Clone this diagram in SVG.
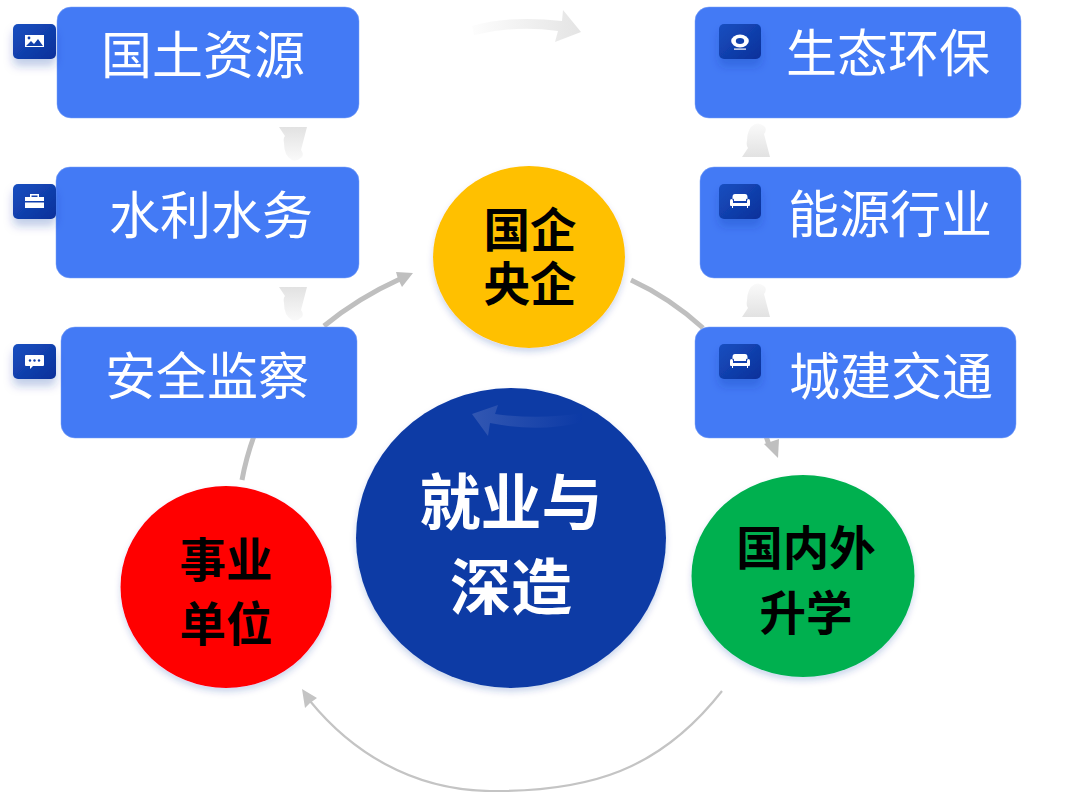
<svg xmlns="http://www.w3.org/2000/svg" width="1080" height="792" viewBox="0 0 1080 792">
<style>
text{font-family:"Noto Sans CJK SC","Noto Sans",sans-serif;text-anchor:middle}
.box{fill:#437af5;stroke:#7aa0f6;stroke-width:.5}
.bt{font-size:51px;fill:#fff;font-weight:400}
.ct{font-size:46.500px;fill:#000;font-weight:700}
.icon{fill:url(#ig);filter:url(#is)}
.g{fill:#fff}
.arc{fill:none;stroke:#bfbfbf;stroke-width:5}
</style>
<defs>
<linearGradient id="ig" x1="0" y1="0" x2="1" y2="1"><stop offset="0" stop-color="#1a4fc0"/><stop offset="1" stop-color="#08309a"/></linearGradient>
<linearGradient id="fade" x1="0" y1="0" x2="0" y2="1"><stop offset="0" stop-color="#e2e2e2"/><stop offset="1" stop-color="#fafafa"/></linearGradient>
<linearGradient id="fadeU" x1="0" y1="1" x2="0" y2="0"><stop offset="0" stop-color="#e2e2e2"/><stop offset="1" stop-color="#fafafa"/></linearGradient>
<linearGradient id="fadeR" x1="0" y1="0" x2="1" y2="0"><stop offset="0" stop-color="#fdfdfd"/><stop offset="1" stop-color="#e4e4e4"/></linearGradient>
<linearGradient id="fadeB" x1="1" y1="0" x2="0" y2="0"><stop offset="0" stop-color="#0c3aa6"/><stop offset="1" stop-color="#3257b2"/></linearGradient>
<filter id="is" x="-40%" y="-40%" width="180%" height="220%"><feDropShadow dx="0" dy="7" stdDeviation="5" flood-color="#0a35a0" flood-opacity=".25"/></filter>
<filter id="cs" x="-10%" y="-10%" width="120%" height="120%"><feDropShadow dx="0" dy="4" stdDeviation="3" flood-color="#0a35a0" flood-opacity=".2"/></filter>
<g id="sofa"><path class="g" d="M-5-7H5Q7.500-7 7.500-4V-2Q6-3 6-1V0H-6V-1Q-6-3-7.500-2V-4Q-7.500-7-5-7ZM-8.500-2Q-7-2-7 0V2H7V0Q7-2 8.500-2Q10-2 10 0V4Q10 5 9 5H8V7H7V5H-7V7H-8V5H-9Q-10 5-10 4V0Q-10-2-8.500-2Z"/></g>
<path id="d" d="M0 0L28 0L22 23Q25 27 23 30Q18 35 13 33Q5 29 5 16Q4 11 6 9Z"/>
<path id="u" d="M0 0L-28 0L-22-23Q-25-27-23-30Q-18-35-13-33Q-5-29-5-16Q-4-11-6-9Z" transform="scale(-1 1)"/>
</defs>
<rect width="1080" height="792" fill="#fff"/>

<g id="connectors">
<path class="arc" d="M242 480Q246 458 254 436"/>
<path class="arc" d="M324 326Q358 298 400 279"/>
<path d="M413 273L396 272L398 279L402 287Z" fill="#bfbfbf"/>
<path class="arc" d="M631 280Q670 298 703 328"/>
<path class="arc" d="M766 436L769 445"/>
<path d="M778 458L764 444L779 439Z" fill="#bfbfbf"/>
<path d="M722 691C660 770 590 792 490 791C410 790 350 750 310 701" fill="none" stroke="#c4c4c4" stroke-width="2.200"/>
<path d="M302 689L317 698L310 703L305 708Z" fill="#c4c4c4"/>
<use href="#d" x="279" y="127" fill="url(#fade)"/>
<use href="#d" x="279" y="287" fill="url(#fade)"/>
<use href="#u" x="742" y="157" fill="url(#fadeU)"/>
<use href="#u" x="742" y="317" fill="url(#fadeU)"/>
<path d="M472 26Q510 15 562 21L563 10L581 32L555 42L558 31Q515 25 474 35Z" fill="url(#fadeR)"/>
</g>

<g id="node-guotu">
<rect class="box" x="57" y="7" width="302" height="111" rx="14"/>
<text class="bt" x="203" y="74">国土资源</text>
<rect class="icon" x="13" y="24" width="43" height="35" rx="5"/>
<path class="g" d="M25 35H44V47H25Z"/><path d="M26 46L31 41L34 44L38 39L43 46Z" fill="#1040ac"/><circle cx="29" cy="38" r="1.400" fill="#1040ac"/>
</g>
<g id="node-shuili">
<rect class="box" x="56" y="167" width="303" height="111" rx="14"/>
<text class="bt" x="211" y="234">水利水务</text>
<rect class="icon" x="13" y="184" width="43" height="35" rx="5"/>
<path class="g" d="M30 197V194H39V197H44V201H25V197ZM31.500 197H37.500V195.500H31.500ZM25 202.500H44V208H25Z"/>
</g>
<g id="node-anquan">
<rect class="box" x="61" y="327" width="296" height="111" rx="14"/>
<text class="bt" x="207" y="395">安全监察</text>
<rect class="icon" x="13" y="344" width="43" height="35" rx="5"/>
<path class="g" d="M26 355H43Q44 355 44 356V365Q44 366 43 366H33L30 369V366H26Q25 366 25 365V356Q25 355 26 355Z"/>
<circle cx="30" cy="360.500" r="1.200" fill="#1040ac"/><circle cx="34.500" cy="360.500" r="1.200" fill="#1040ac"/><circle cx="39" cy="360.500" r="1.200" fill="#1040ac"/>
</g>

<g id="node-shengtai">
<rect class="box" x="695" y="7" width="326" height="111" rx="14"/>
<rect class="icon" x="719" y="24" width="42" height="35" rx="5"/>
<ellipse cx="740" cy="41" rx="8.800" ry="6.500" class="g"/><ellipse cx="740" cy="41" rx="4.200" ry="3" fill="#1040ac"/><rect x="734" y="48.500" width="12" height="1.200" class="g"/>
<text class="bt" x="888" y="72">生态环保</text>
</g>
<g id="node-nengyuan">
<rect class="box" x="700" y="167" width="321" height="111" rx="14"/>
<rect class="icon" x="719" y="184" width="42" height="35" rx="5"/>
<use href="#sofa" x="740" y="201"/>
<text class="bt" x="890" y="233">能源行业</text>
</g>
<g id="node-chengjian">
<rect class="box" x="695" y="327" width="321" height="111" rx="14"/>
<rect class="icon" x="719" y="344" width="42" height="35" rx="5"/>
<use href="#sofa" x="740" y="361"/>
<text class="bt" x="891" y="395">城建交通</text>
</g>

<g id="node-guoqi">
<ellipse cx="529" cy="257" rx="96" ry="91" fill="#ffc000" filter="url(#cs)"/>
<text class="ct" x="530" y="247">国企</text>
<text class="ct" x="530" y="301">央企</text>
</g>
<g id="node-center">
<ellipse cx="511" cy="538" rx="155" ry="150" fill="#0b3aa5" filter="url(#cs)"/>
<path d="M582 413Q540 420 495 414L498 405L472 414L488 436L490 423Q540 433 582 422Z" fill="url(#fadeB)"/>
<text x="511" y="525" font-size="61" font-weight="700" fill="#fff">就业与</text>
<text x="511" y="610" font-size="61" font-weight="700" fill="#fff">深造</text>
</g>
<g id="node-shiye">
<ellipse cx="226" cy="587" rx="105.500" ry="101" fill="#ff0000" filter="url(#cs)"/>
<text class="ct" x="226" y="577">事业</text>
<text class="ct" x="226" y="641">单位</text>
</g>
<g id="node-shengxue">
<ellipse cx="803" cy="576" rx="111.500" ry="101" fill="#00b050" filter="url(#cs)"/>
<text class="ct" x="806" y="565">国内外</text>
<text class="ct" x="806" y="630">升学</text>
</g>
</svg>
